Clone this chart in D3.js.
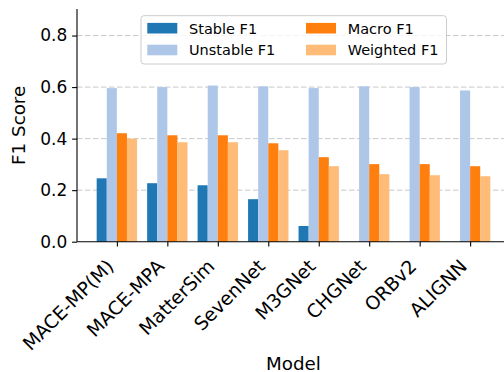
<!DOCTYPE html>
<html lang="en">
<head>
<meta charset="utf-8">
<title>F1 scores by model</title>
<script src="https://cdn.jsdelivr.net/npm/d3@7"></script>
<style>
  body { margin: 0; background: #fff; }
  svg { display: block; font-family: "DejaVu Sans", sans-serif; }
</style>
</head>
<body>
<div id="chart"></div>
<script>
// data
var models = ["MACE-MP(M)", "MACE-MPA", "MatterSim", "SevenNet", "M3GNet", "CHGNet", "ORBv2", "ALIGNN"];
var seriesNames = ["Stable F1", "Unstable F1", "Macro F1", "Weighted F1"];
var stableF1   = [0.246, 0.227, 0.219, 0.165, 0.061, 0, 0, 0];
var unstableF1 = [0.596, 0.600, 0.606, 0.603, 0.596, 0.603, 0.600, 0.587];
var macroF1    = [0.421, 0.413, 0.413, 0.382, 0.328, 0.301, 0.301, 0.293];
var weightedF1 = [0.400, 0.386, 0.386, 0.355, 0.293, 0.262, 0.258, 0.254];
var yTicks = [0.0, 0.2, 0.4, 0.6, 0.8];

var series = [stableF1, unstableF1, macroF1, weightedF1];
var colors = ["#1f77b4", "#aec7e8", "#ff7f0e", "#ffbb78"];

var width = 504, height = 372;
var plotL = 77, plotR = 510, plotT = 9, plotB = 241.7;
var barW = 0.2;

var svg = d3.select("#chart").append("svg")
    .attr("width", width)
    .attr("height", height);

var x = d3.scaleLinear().domain([-0.79, models.length - 1 + 0.79]).range([plotL, plotR]);
var y = d3.scaleLinear().domain([0, 0.903]).range([plotB, plotT]);

// grid
svg.append("g").selectAll("line")
    .data(yTicks.filter(function(t) { return t > 0; }))
  .enter().append("line")
    .attr("x1", plotL).attr("x2", plotR)
    .attr("y1", function(d) { return y(d); })
    .attr("y2", function(d) { return y(d); })
    .attr("stroke", "#b0b0b0")
    .attr("stroke-opacity", 0.7)
    .attr("stroke-width", 1)
    .attr("stroke-dasharray", "5.5,2.5");

// bars
series.forEach(function(vals, s) {
    var off = (s - 1.5) * barW;
    svg.append("g").selectAll("rect")
        .data(vals)
      .enter().append("rect")
        .attr("x", function(d, i) { return x(i + off - barW / 2); })
        .attr("width", function() { return x(barW) - x(0); })
        .attr("y", function(d) { return y(d); })
        .attr("height", function(d) { return y(0) - y(d); })
        .attr("fill", colors[s]);
});

// axes
var yAxis = d3.axisLeft(y).tickValues(yTicks).tickFormat(d3.format(".1f")).tickSize(4.9).tickPadding(4.9);
var gy = svg.append("g").attr("transform", "translate(" + plotL + ",0)").call(yAxis);
gy.select(".domain").attr("d", "M0," + plotT + "V" + plotB).attr("stroke-width", 1.1);
gy.selectAll(".tick line").attr("stroke-width", 1.1);
gy.selectAll("text").attr("font-size", "17px").attr("fill", "#000")
    .attr("font-family", "DejaVu Sans");

var xAxis = d3.axisBottom(x).tickValues(d3.range(models.length)).tickFormat(function(i) { return models[i]; }).tickSize(4.9);
var gx = svg.append("g").attr("transform", "translate(0," + plotB + ")").call(xAxis);
gx.select(".domain").attr("d", "M" + plotL + ",0H" + plotR).attr("stroke-width", 1.1);
gx.selectAll(".tick line").attr("stroke-width", 1.1);
gx.selectAll("text")
    .attr("font-size", "18.8px").attr("fill", "#000")
    .attr("font-family", "DejaVu Sans")
    .attr("text-anchor", "end")
    .attr("dy", null)
    .attr("y", null)
    .attr("transform", "translate(-2.5,25.8) rotate(-45)");

// axis labels
svg.append("text")
    .attr("x", (plotL + plotR) / 2).attr("y", 369.5)
    .attr("text-anchor", "middle")
    .attr("font-size", "18.3px")
    .text("Model");

svg.append("text")
    .attr("transform", "translate(24.5," + (plotT + plotB) / 2 + ") rotate(-90)")
    .attr("text-anchor", "middle")
    .attr("font-size", "18.3px")
    .text("F1 Score");

// legend
var lg = svg.append("g");
lg.append("rect")
    .attr("x", 141).attr("y", 15.7)
    .attr("width", 305.5).attr("height", 48.3)
    .attr("rx", 3)
    .attr("fill", "#fff").attr("fill-opacity", 0.8)
    .attr("stroke", "#cccccc").attr("stroke-width", 1);

var colX = [147.3, 306];
var rowY = [28.2, 50];
seriesNames.forEach(function(name, s) {
    var cx = colX[Math.floor(s / 2)], cy = rowY[s % 2];
    lg.append("rect")
        .attr("x", cx).attr("y", cy - 5.3)
        .attr("width", 30).attr("height", 10.6)
        .attr("fill", colors[s]);
    lg.append("text")
        .attr("x", cx + 41.7).attr("y", cy + 5.3)
        .attr("font-size", "14.5px")
        .text(name);
});
</script>
</body>
</html>
